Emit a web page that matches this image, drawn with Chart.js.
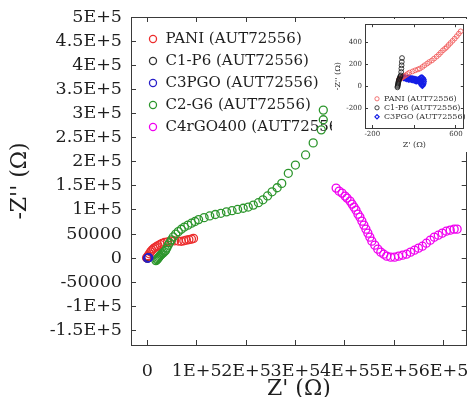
<!DOCTYPE html>
<html><head><meta charset="utf-8">
<script src="https://cdn.jsdelivr.net/npm/chart.js@4.4.0/dist/chart.umd.min.js"></script>
<style>
html,body{margin:0;padding:0;background:#fff;overflow:hidden;width:472px;height:397px}
#wrap{position:relative;width:472px;height:397px;overflow:hidden}
#main{position:absolute;left:0;top:0}
#inset{position:absolute;left:332px;top:19px;background:#fff}
</style></head><body>
<div id="wrap"><canvas id="main" width="472" height="406"></canvas><canvas id="inset" width="137" height="133"></canvas></div>
<script>
// ---------- main chart data ----------
const SERIES_NAMES = ['PANI (AUT72556)', 'C1-P6 (AUT72556)', 'C3PGO (AUT72556)', 'C2-G6 (AUT72556)', 'C4rGO400 (AUT72556)'];

const PANI_X = [-1600, 1500, 4100, 6650, 9200, 12300, 15400, 18500, 21550, 25700, 29800, 34900, 41100, 48300, 55500, 62700, 68800, 74000, 79100, 84200, 89400, 93500];
const PANI_Y = [1000, 5000, 9000, 13000, 16500, 19500, 22000, 24000, 26000, 28500, 30500, 32500, 34000, 35500, 36000, 35500, 35000, 36000, 37500, 38500, 39500, 41000];

const C1P6_X = [0, 800, 1500];
const C1P6_Y = [0, 1500, 3000];

const C3PGO_X = [0, 1500, 3000];
const C3PGO_Y = [0, 500, 1000];

const C2G6_X = [17400, 19500, 21000, 22600, 24100, 25700, 27700, 29800, 31800, 34400, 37000, 39500, 42100, 45200, 48800, 52400, 57500, 62700, 68800, 75000, 82200, 89400, 96600, 103800, 115000, 126400, 137700, 149000, 160300, 171600, 182900, 194200, 204400, 214700, 225000, 234200, 243500, 252700, 263000, 272300, 285600, 300000, 320600, 336000, 352400, 356500, 356500];
const C2G6_Y = [-5000, -3000, -1000, 1000, 3000, 5000, 7000, 9000, 11000, 13500, 16000, 21000, 27000, 32000, 38000, 44000, 50000, 55000, 60000, 64500, 68500, 72500, 76000, 80000, 84000, 87500, 90500, 93000, 96000, 98500, 101000, 103500, 106000, 110000, 115000, 121000, 129000, 137600, 146000, 155000, 176000, 193000, 214000, 239000, 266000, 287000, 307000];

const C4_X = [382500, 388600, 394500, 400600, 404600, 410700, 414700, 418700, 422700, 426700, 430700, 434700, 438700, 442800, 446800, 450800, 454800, 460800, 466900, 472900, 478900, 484900, 493000, 501000, 509000, 517100, 525100, 533200, 541200, 549300, 557300, 565300, 573300, 581300, 589400, 597500, 605500, 613600, 621600, 627600];
const C4_Y = [145300, 139000, 134900, 128700, 124500, 118300, 112100, 105800, 99600, 91300, 85100, 76800, 68500, 60200, 51900, 43600, 35300, 27000, 18700, 12500, 8300, 4200, 2100, 2100, 4200, 6200, 8300, 12500, 16600, 20800, 24900, 31100, 37400, 43600, 47700, 51900, 56000, 58100, 60200, 60200];

const X_TICKS = [0, 100000, 200000, 300000, 400000, 500000, 600000];
const X_TICK_LABELS = ['0', '1E+5', '2E+5', '3E+5', '4E+5', '5E+5', '6E+5'];
const Y_TICKS = [-150000, -100000, -50000, 0, 50000, 100000, 150000, 200000, 250000, 300000, 350000, 400000, 450000, 500000];
const Y_TICK_LABELS = ['-1.5E+5', '-1E+5', '-50000', '0', '50000', '1E+5', '1.5E+5', '2E+5', '2.5E+5', '3E+5', '3.5E+5', '4E+5', '4.5E+5', '5E+5'];
const X_MIN = -33100, X_MAX = 647000, Y_MIN = -180000, Y_MAX = 500000;

// ---------- inset data ----------
const INSET_NAMES = ['PANI (AUT72556)', 'C1-P6 (AUT72556)', 'C3PGO (AUT72556)'];
const I_PANI_X = [55, 65, 75, 85, 95, 105, 120, 137, 155, 185, 210, 235, 255, 280, 300, 325, 345, 370, 391, 415, 436, 455, 475, 495, 512, 530, 548, 568, 588, 608, 627, 645];
const I_PANI_Y = [62, 68, 74, 80, 86, 92, 100, 112, 124, 135, 145, 153, 161, 176, 191, 207, 221, 235, 252, 270, 288, 307, 327, 342, 357, 376, 394, 414, 434, 456, 479, 500];
const I_C1P6_X = [40, 42, 44, 46, 48, 50, 53, 56, 60, 64, 68, 72, 76, 78, 80, 82, 84];
const I_C1P6_Y = [-10, 0, 10, 20, 30, 40, 50, 60, 70, 80, 90, 100, 130, 161, 191, 222, 257];
const I_C3PGO_X = [90, 100, 110, 120, 130, 140, 150, 160, 170, 180, 190, 200, 210, 220, 230, 240, 250, 255, 260, 265, 270, 275, 280, 285, 290, 292, 290, 285, 275, 265, 255, 245, 235, 225, 215, 205, 190, 175, 160, 145, 130, 115, 100];
const I_C3PGO_Y = [85, 82, 80, 78, 76, 75, 74, 73, 72, 70, 68, 66, 64, 62, 60, 58, 55, 45, 35, 25, 15, 8, 5, 15, 30, 45, 60, 72, 80, 78, 70, 62, 50, 45, 48, 52, 55, 58, 60, 62, 65, 70, 75];
const I_X_TICKS = [-200, 200, 600];
const I_X_TICK_LABELS = ['-200', '', '600'];
const I_Y_TICKS = [-200, 0, 200, 400];
const I_Y_TICK_LABELS = ['-200', '0', '200', '400'];
const I_X_MIN = -270, I_X_MAX = 675, I_Y_MIN = -380, I_Y_MAX = 565;

// ---------- helpers ----------
const pts = (xs, ys) => xs.map((x, i) => ({x: x, y: ys[i]}));
const legendShift = {
  id: 'legendShift',
  afterLayout(chart, args, opts) {
    const l = chart.legend; if (!l) return;
    l.left += opts.dx; l.right += opts.dx; l.top += opts.dy; l.bottom += opts.dy;
  }
};
const TXT = '#1e1e1e', AX = '#3a3a3a';
const SERIF = 'DejaVu Serif';

function ds(label, data, color, r, bw, order, style) {
  return {label, data, borderColor: color, backgroundColor: 'rgba(0,0,0,0)',
    pointRadius: r, pointBorderWidth: bw, pointStyle: style || 'circle', showLine: false, order};
}
function fixSize(w, h) {
  return s => {
    if (w !== null) s.width = w;
    if (h !== null) s.height = h;
    s.paddingLeft = 0; s.paddingRight = 0; s.paddingTop = 0; s.paddingBottom = 0;
  };
}

// ---------- main chart ----------
new Chart(document.getElementById('main'), {
  type: 'scatter',
  data: {
    datasets: [
      ds(SERIES_NAMES[0], pts(PANI_X, PANI_Y), 'rgb(236,45,45)', 4, 1.3, 2),
      ds(SERIES_NAMES[1], pts(C1P6_X, C1P6_Y), 'rgb(50,50,50)', 4, 1.3, 3),
      ds(SERIES_NAMES[2], pts(C3PGO_X, C3PGO_Y), 'rgb(40,30,200)', 4, 1.3, 0),
      ds(SERIES_NAMES[3], pts(C2G6_X, C2G6_Y), 'rgb(45,150,45)', 4, 1.3, 1),
      ds(SERIES_NAMES[4], pts(C4_X, C4_Y), 'rgb(240,0,240)', 4, 1.3, 4)
    ]
  },
  plugins: [legendShift],
  options: {
    responsive: false, animation: false, devicePixelRatio: 1,
    layout: {padding: {top: 17, right: 2, left: 0, bottom: 0}},
    plugins: {
      legendShift: {dx: 10, dy: 24.5},
      tooltip: {enabled: false},
      legend: {
        position: 'chartArea', align: 'start',
        labels: {usePointStyle: true, boxWidth: 10, boxHeight: 5, padding: 7, color: TXT,
          font: {family: SERIF, size: 15}, sort: (a, b) => a.datasetIndex - b.datasetIndex}
      }
    },
    scales: {
      x: {
        type: 'linear', position: 'bottom', min: X_MIN, max: X_MAX,
        afterBuildTicks: s => { s.ticks = X_TICKS.map(v => ({value: v})); },
        afterFit: fixSize(null, 61),
        ticks: {autoSkip: false, maxRotation: 0, padding: 21, color: TXT, font: {family: SERIF, size: 17.5},
          callback: (v, i) => X_TICK_LABELS[i]},
        grid: {drawOnChartArea: false, tickLength: -5, color: AX},
        border: {display: true, color: AX, width: 1},
        title: {display: true, text: "Z' (Ω)", color: TXT, font: {family: SERIF, size: 22}, padding: {top: 0, bottom: 4}}
      },
      x2: {
        type: 'linear', position: 'top', min: X_MIN, max: X_MAX,
        afterBuildTicks: s => { s.ticks = X_TICKS.map(v => ({value: v})); },
        afterFit: fixSize(null, 0),
        ticks: {display: false},
        grid: {drawOnChartArea: false, tickLength: -5, color: AX},
        border: {display: true, color: AX, width: 1}
      },
      y: {
        type: 'linear', position: 'left', min: Y_MIN, max: Y_MAX,
        afterBuildTicks: s => { s.ticks = Y_TICKS.map(v => ({value: v})); },
        afterFit: fixSize(131, null),
        ticks: {autoSkip: false, padding: 14, color: TXT, font: {family: SERIF, size: 17.5},
          callback: (v, i) => Y_TICK_LABELS[i]},
        grid: {drawOnChartArea: false, tickLength: -5, color: AX},
        border: {display: true, color: AX, width: 1},
        title: {display: true, text: "-Z'' (Ω)", color: TXT, font: {family: SERIF, size: 22}, padding: {top: 7, bottom: 0}}
      },
      y2: {
        type: 'linear', position: 'right', min: Y_MIN, max: Y_MAX,
        afterBuildTicks: s => { s.ticks = Y_TICKS.map(v => ({value: v})); },
        afterFit: fixSize(0, null),
        ticks: {display: false},
        grid: {drawOnChartArea: false, tickLength: -5, color: AX},
        border: {display: true, color: AX, width: 1}
      }
    }
  }
});

// ---------- inset chart ----------
const IF = 7;
new Chart(document.getElementById('inset'), {
  type: 'scatter',
  data: {
    datasets: [
      ds(INSET_NAMES[0], pts(I_PANI_X, I_PANI_Y), 'rgb(240,80,80)', 2.4, 0.8, 1),
      ds(INSET_NAMES[1], pts(I_C1P6_X, I_C1P6_Y), 'rgb(20,20,20)', 2.4, 0.8, 0),
      ds(INSET_NAMES[2], pts(I_C3PGO_X, I_C3PGO_Y), 'rgb(20,30,230)', 2.6, 1.2, 2, 'rectRot')
    ]
  },
  plugins: [legendShift],
  options: {
    responsive: false, animation: false, devicePixelRatio: 1,
    layout: {padding: {top: 5, right: 2, left: 0, bottom: 0}},
    plugins: {
      legendShift: {dx: 8, dy: -1},
      tooltip: {enabled: false},
      legend: {
        position: 'chartArea', align: 'end',
        labels: {usePointStyle: true, boxWidth: 6, boxHeight: 3, padding: 1, color: '#333',
          font: {family: SERIF, size: 8}, sort: (a, b) => a.datasetIndex - b.datasetIndex}
      }
    },
    scales: {
      x: {
        type: 'linear', position: 'bottom', min: I_X_MIN, max: I_X_MAX,
        afterBuildTicks: s => { s.ticks = I_X_TICKS.map(v => ({value: v})); },
        afterFit: fixSize(null, 24),
        ticks: {autoSkip: false, maxRotation: 0, padding: 5, color: '#333', font: {family: SERIF, size: IF},
          callback: (v, i) => I_X_TICK_LABELS[i]},
        grid: {drawOnChartArea: false, tickLength: -3, color: AX},
        border: {display: true, color: AX, width: 1},
        title: {display: true, text: "Z' (Ω)", color: '#333', font: {family: SERIF, size: 8}, padding: {top: 0, bottom: 2}}
      },
      x2: {
        type: 'linear', position: 'top', min: I_X_MIN, max: I_X_MAX,
        afterBuildTicks: s => { s.ticks = I_X_TICKS.map(v => ({value: v})); },
        afterFit: fixSize(null, 0),
        ticks: {display: false},
        grid: {drawOnChartArea: false, tickLength: -3, color: AX},
        border: {display: true, color: AX, width: 1}
      },
      y: {
        type: 'linear', position: 'left', min: I_Y_MIN, max: I_Y_MAX,
        afterBuildTicks: s => { s.ticks = I_Y_TICKS.map(v => ({value: v})); },
        afterFit: fixSize(33, null),
        ticks: {autoSkip: false, padding: 6, color: '#333', font: {family: SERIF, size: IF},
          callback: (v, i) => I_Y_TICK_LABELS[i]},
        grid: {drawOnChartArea: false, tickLength: -3, color: AX},
        border: {display: true, color: AX, width: 1},
        title: {display: true, text: "-Z'' (Ω)", color: '#333', font: {family: SERIF, size: 8}, padding: {top: 1, bottom: 0}}
      },
      y2: {
        type: 'linear', position: 'right', min: I_Y_MIN, max: I_Y_MAX,
        afterBuildTicks: s => { s.ticks = I_Y_TICKS.map(v => ({value: v})); },
        afterFit: fixSize(0, null),
        ticks: {display: false},
        grid: {drawOnChartArea: false, tickLength: -3, color: AX},
        border: {display: true, color: AX, width: 1}
      }
    }
  }
});
</script>
</body></html>
